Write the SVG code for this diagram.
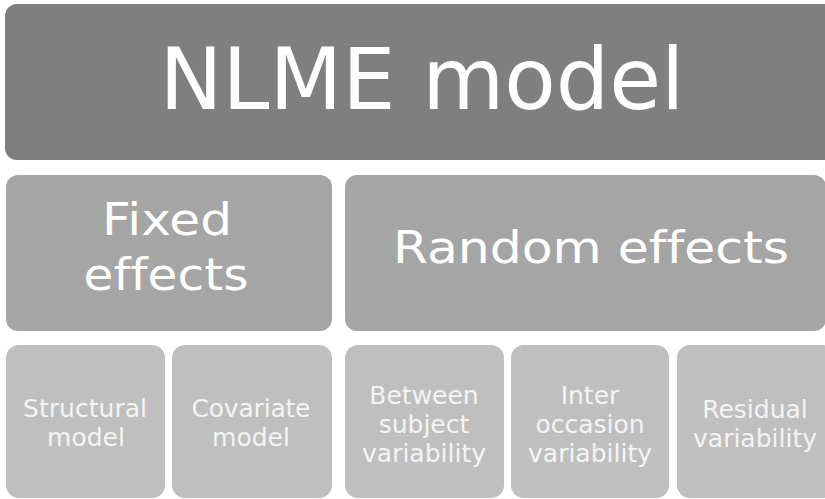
<svg xmlns="http://www.w3.org/2000/svg" width="825" height="499" viewBox="0 0 825 499">
  <style>
    .lvl0 { fill: #7f7f7f; }
    .lvl1 { fill: #a5a5a5; }
    .lvl2 { fill: #bfbfbf; }
    text { font-family: "DejaVu Sans", "Liberation Sans", sans-serif; text-anchor: middle; font-variant-ligatures: none; }
    .t0 { fill: #ffffff; font-size: 85px; }
    .t1 { fill: #ffffff; font-size: 44px; }
    .t2 { fill: #f4f4f4; font-size: 25px; }
  </style>
  <rect width="825" height="499" fill="#ffffff"/>

  <g id="nlme-model">
    <rect class="lvl0" x="5" y="4" width="835" height="156" rx="12"/>
    <text class="t0" x="422" y="109" textLength="525" lengthAdjust="spacingAndGlyphs">NLME model</text>
  </g>

  <g id="fixed-effects">
    <rect class="lvl1" x="6" y="175" width="326" height="156" rx="12"/>
    <text class="t1" x="167" y="235" textLength="130" lengthAdjust="spacingAndGlyphs">Fixed</text>
    <text class="t1" x="166" y="290" textLength="165" lengthAdjust="spacingAndGlyphs">effects</text>
  </g>

  <g id="random-effects">
    <rect class="lvl1" x="345" y="175" width="481" height="156" rx="12"/>
    <text class="t1" x="591" y="263" textLength="396" lengthAdjust="spacingAndGlyphs">Random effects</text>
  </g>

  <g id="structural-model">
    <rect class="lvl2" x="6" y="345" width="159" height="153" rx="13"/>
    <text class="t2" x="85" y="417" textLength="124">Structural</text>
    <text class="t2" x="86" y="446">model</text>
  </g>

  <g id="covariate-model">
    <rect class="lvl2" x="172" y="345" width="160" height="153" rx="13"/>
    <text class="t2" x="251" y="417" textLength="119">Covariate</text>
    <text class="t2" x="251" y="446">model</text>
  </g>

  <g id="between-subject-variability">
    <rect class="lvl2" x="345" y="345" width="159" height="153" rx="13"/>
    <text class="t2" x="424" y="404">Between</text>
    <text class="t2" x="424" y="433">subject</text>
    <text class="t2" x="424" y="462">variability</text>
  </g>

  <g id="inter-occasion-variability">
    <rect class="lvl2" x="511" y="345" width="158" height="153" rx="13"/>
    <text class="t2" x="590" y="404">Inter</text>
    <text class="t2" x="590" y="433">occasion</text>
    <text class="t2" x="590" y="462">variability</text>
  </g>

  <g id="residual-variability">
    <rect class="lvl2" x="677" y="345" width="158" height="153" rx="13"/>
    <text class="t2" x="755" y="418">Residual</text>
    <text class="t2" x="755" y="447">variability</text>
  </g>
</svg>
